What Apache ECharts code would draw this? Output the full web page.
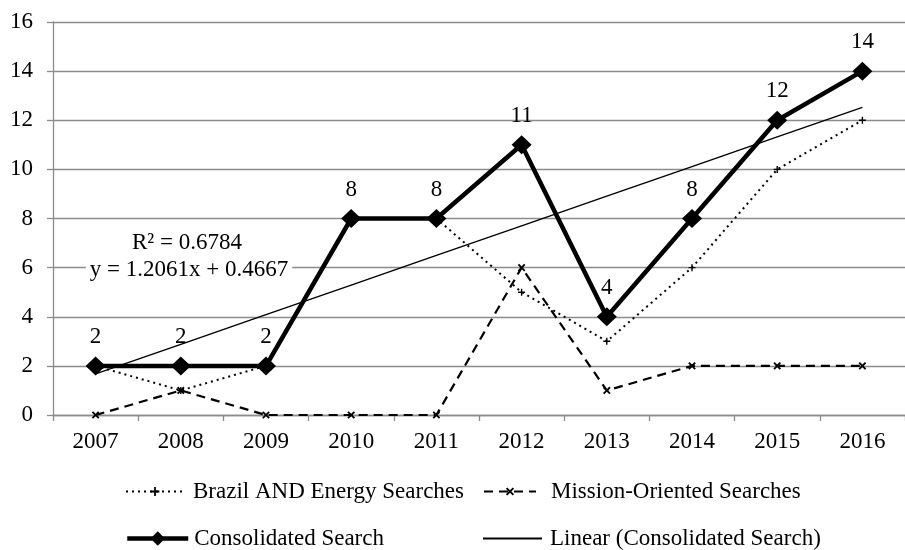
<!DOCTYPE html>
<html>
<head>
<meta charset="utf-8">
<script src="https://cdn.jsdelivr.net/npm/echarts@6/dist/echarts.min.js"></script>
<style>
html,body{margin:0;padding:0;background:#fff;}
#main{width:905px;height:550px;}
</style>
</head>
<body>
<div id="main"></div>
<script>
const years = ['2007','2008','2009','2010','2011','2012','2013','2014','2015','2016'];
const brazilEnergy = [2,1,2,8,8,5,3,6,10,12];
const missionOriented = [0,1,0,0,0,6,1,2,2,2];
const consolidated = [2,2,2,8,8,11,4,8,12,14];
const linearTrend = [1.6728,2.8789,4.0850,5.2911,6.4972,7.7033,8.9094,10.1155,11.3216,12.5277];
const yTicks = {min:0, max:16, interval:2};
const trendText = ['R² = 0.6784','y = 1.2061x + 0.4667'];
const names = ['Brazil AND Energy Searches','Mission-Oriented Searches','Consolidated Search','Linear (Consolidated Search)'];

const FONT = "'Liberation Serif','Times New Roman',serif";
const FS = 23;
const PLUS = 'path://M4,0H6V4H10V6H6V10H4V6H0V4H4Z';

const chart = echarts.init(document.getElementById('main'), null, {renderer:'canvas'});

function leg(name, left, top, iw, ih, padL, extra){
  return Object.assign({
    data:[name], left:left, top:top, itemWidth:iw, itemHeight:ih, itemGap:0,
    textStyle:{fontFamily:FONT, fontSize:FS, color:'#000', padding:[0,0,0,padL]},
    padding:0
  }, extra || {});
}

const option = {
  animation:false,
  backgroundColor:'#fff',
  textStyle:{fontFamily:FONT},
  grid:{left:53, top:22, height:393, width:865, containLabel:false},
  xAxis:{
    type:'category', data:years, boundaryGap:true,
    axisLine:{show:true, lineStyle:{color:'#8c8c8c', width:1.3}},
    axisTick:{show:true, alignWithLabel:false, length:6, lineStyle:{color:'#8c8c8c', width:1.3}},
    axisLabel:{fontFamily:FONT, fontSize:FS, color:'#000', margin:15},
    splitLine:{show:false}
  },
  yAxis:{
    type:'value', min:yTicks.min, max:yTicks.max, interval:yTicks.interval,
    axisLine:{show:true, lineStyle:{color:'#8c8c8c', width:1.3}},
    axisTick:{show:true, length:6, lineStyle:{color:'#8c8c8c', width:1.3}},
    axisLabel:{fontFamily:FONT, fontSize:FS, color:'#000', margin:20},
    splitLine:{show:true, lineStyle:{color:'#8c8c8c', width:1.3}}
  },
  legend:[
    leg(names[0], 125, 480, 58, 11, 4),
    leg(names[1], 483, 480, 52, 12, 10),
    leg(names[2], 125, 527, 61, 18, 1, {lineStyle:{width:'inherit'}}),
    leg(names[3], 483, 527, 59, 2, 3, {icon:'rect'})
  ],
  series:[
    {
      name:names[3], type:'line', data:linearTrend, symbol:'none', z:2,
      lineStyle:{color:'#000', width:1.4}, itemStyle:{color:'#000'}
    },
    {
      name:names[0], type:'line', data:brazilEnergy, symbol:PLUS, symbolSize:7, z:3,
      lineStyle:{color:'#000', width:2, type:[2,4]}, itemStyle:{color:'#000'}
    },
    {
      name:names[1], type:'line', data:missionOriented, symbol:PLUS, symbolRotate:45, symbolSize:9, z:3,
      lineStyle:{color:'#000', width:2.2, type:[9,6]}, itemStyle:{color:'#000'}
    },
    {
      name:names[2], type:'line', data:consolidated, symbol:'diamond', symbolSize:[20,19], z:5,
      lineStyle:{color:'#000', width:4.5}, itemStyle:{color:'#000'},
      label:{show:true, position:'top', distance:8, fontFamily:FONT, fontSize:FS, color:'#000'}
    }
  ],
  graphic:[
    {
      type:'text', x:187, y:243, z:10,
      style:{text:trendText[0], font:FS+'px '+FONT, fill:'#000', align:'center', verticalAlign:'middle',
        backgroundColor:'#fff', padding:[0,3]}
    },
    {
      type:'text', x:189, y:270, z:10,
      style:{text:trendText[1], font:FS+'px '+FONT, fill:'#000', align:'center', verticalAlign:'middle',
        backgroundColor:'#fff', padding:[0,4]}
    }
  ]
};
chart.setOption(option);
</script>
</body>
</html>
